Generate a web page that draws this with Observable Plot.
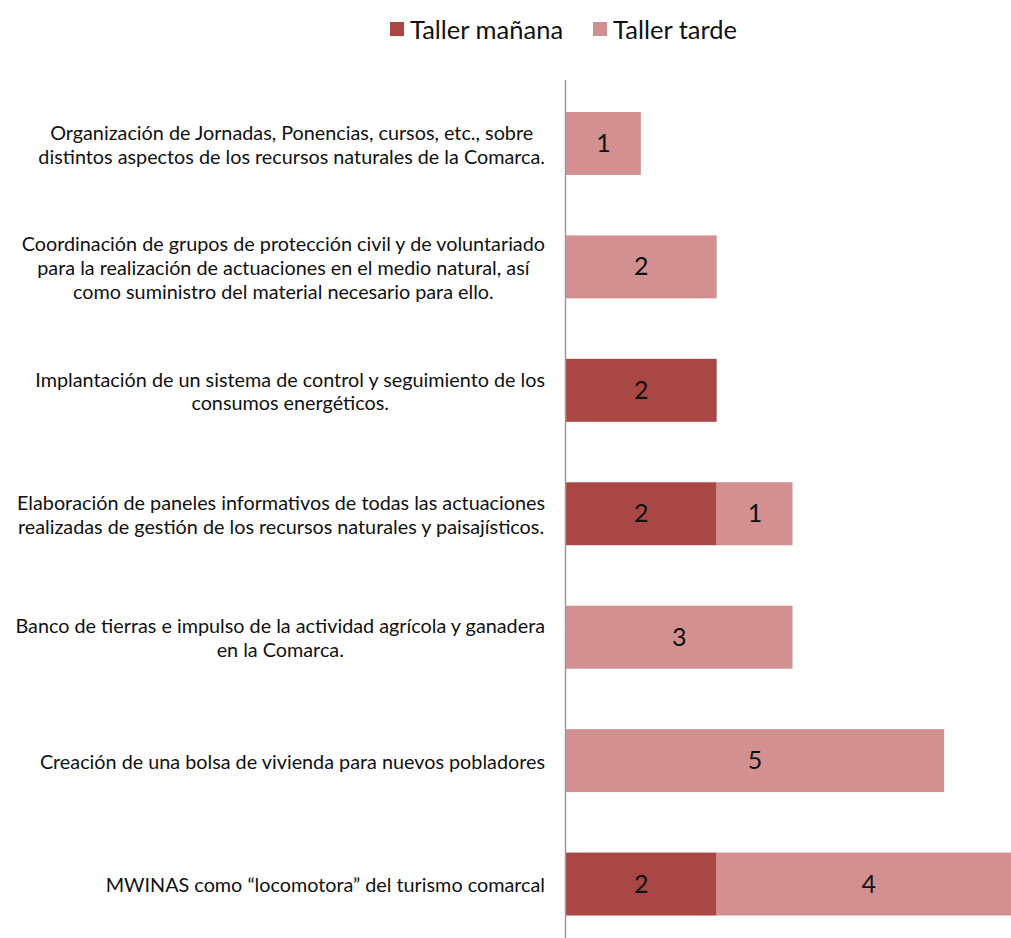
<!DOCTYPE html>
<html>
<head>
<meta charset="utf-8">
<script src="https://cdn.jsdelivr.net/npm/d3@7"></script>
<script src="https://cdn.jsdelivr.net/npm/@observablehq/plot@0.6"></script>
<style>
  html, body { margin: 0; padding: 0; background: #fff; }
  body { width: 1011px; height: 938px; overflow: hidden; position: relative; font-family: Lato, "Open Sans", sans-serif; }
  #legend { position: absolute; left: 390px; top: 9px; height: 40px; display: flex; align-items: center; font-size: 25.5px; color: #111; white-space: nowrap; }
  #legend .item { display: flex; align-items: center; margin-right: 30px; }
  #legend .sw { width: 14px; height: 14px; margin-right: 6px; display: inline-block; }
  #chart { position: absolute; left: 0; top: 60px; }
</style>
</head>
<body>
<div id="legend"></div>
<div id="chart"></div>
<script>
const categories = [
  "Organización de Jornadas, Ponencias, cursos, etc., sobre\ndistintos aspectos de los recursos naturales de la Comarca.",
  "Coordinación de grupos de protección civil y de voluntariado\npara la realización de actuaciones en el medio natural, así\ncomo suministro del material necesario para ello.",
  "Implantación de un sistema de control y seguimiento de los\nconsumos energéticos.",
  "Elaboración de paneles informativos de todas las actuaciones\nrealizadas de gestión de los recursos naturales y paisajísticos.",
  "Banco de tierras e impulso de la actividad agrícola y ganadera\nen la Comarca.",
  "Creación de una bolsa de vivienda para nuevos pobladores",
  "MWINAS como “locomotora” del turismo comarcal"
];
const seriesNames = ["Taller mañana", "Taller tarde"];
const seriesColors = ["#A94745", "#D29090"];
const manana = [0, 0, 2, 2, 0, 0, 2];
const tarde  = [1, 2, 0, 1, 3, 5, 4];

const data = [];
categories.forEach((c, i) => {
  if (manana[i] > 0) data.push({cat: c, series: seriesNames[0], value: manana[i]});
  if (tarde[i] > 0) data.push({cat: c, series: seriesNames[1], value: tarde[i]});
});

// legend
const legend = document.getElementById("legend");
seriesNames.forEach((s, i) => {
  const it = document.createElement("div");
  it.className = "item";
  it.innerHTML = `<span class="sw" style="background:${seriesColors[i]}"></span><span>${s}</span>`;
  legend.appendChild(it);
});

const plot = Plot.plot({
  width: 1011,
  height: 878,
  marginLeft: 565,
  marginRight: 0,
  marginTop: 20,
  marginBottom: 0,
  style: {fontFamily: "Lato, 'Open Sans', sans-serif", background: "#fff", overflow: "hidden"},
  x: {domain: [0, 6], range: [565, 1020], axis: null},
  y: {domain: categories, range: [-8.5, 916], padding: 0.49, round: false, label: null},
  color: {domain: seriesNames, range: seriesColors},
  marks: [
    Plot.barX(data, Plot.stackX({x: "value", y: "cat", fill: "series", z: "series", order: seriesNames})),
    Plot.textX(data, Plot.stackX({x: "value", y: "cat", z: "series", order: seriesNames, text: d => String(d.value), fill: "#111", fontSize: 25})),
    Plot.ruleX([0], {stroke: "#9a9a9a", strokeWidth: 1.5}),
    Plot.axisY({tickSize: 0, tickPadding: 20, textAnchor: "middle", lineHeight: 1.21, fontSize: 19.8, fill: "#111"})
  ]
});
document.getElementById("chart").appendChild(plot);

// center each multi-line label block, right edge at x=545
const svgRect = plot.getBoundingClientRect();
plot.querySelectorAll('g[aria-label="y-axis tick label"] text').forEach(t => {
  const r = t.getBoundingClientRect();
  const right = r.right - svgRect.left;
  const shift = 545 - right;
  t.setAttribute("transform", `translate(${shift},0) ` + (t.getAttribute("transform") || ""));
});
</script>
</body>
</html>
